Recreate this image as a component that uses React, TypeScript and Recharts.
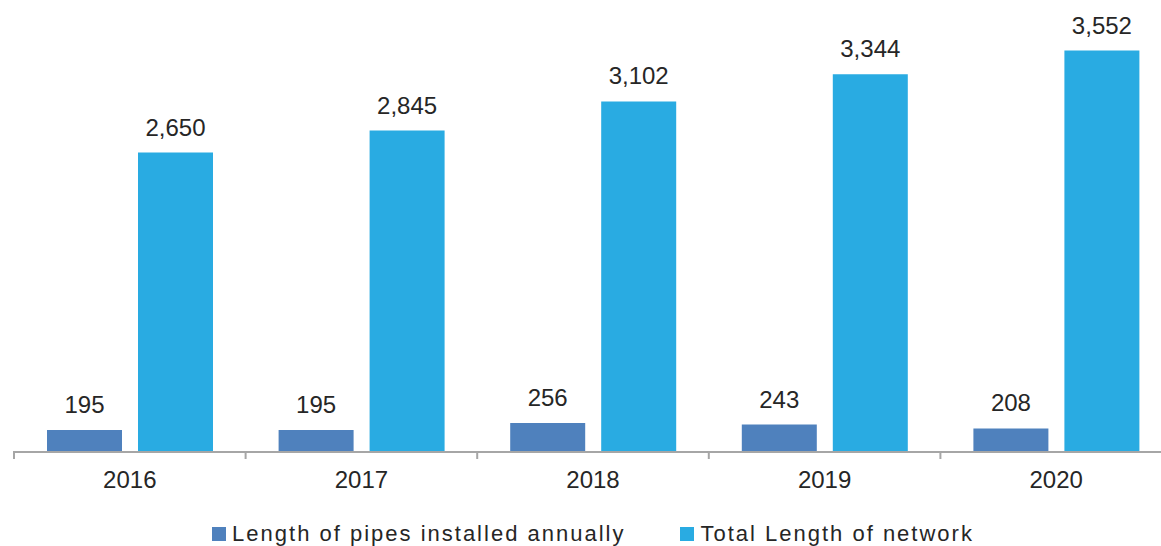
import { BarChart, Bar, XAxis, YAxis, Legend, LabelList } from 'recharts'

const years = ['2016', '2017', '2018', '2019', '2020']
const pipesInstalled = [195, 195, 256, 243, 208]
const networkTotal = [2650, 2845, 3102, 3344, 3552]

const FONT = '"Liberation Sans", Arial, sans-serif'
const TEXT = '#262626'
const AXIS = '#a6a6a6'
const DARK_BLUE = '#4f81bd'
const LIGHT_BLUE = '#29abe2'
const TICK_GAP = 19

const data = years.map((year, i) => ({
  year,
  annual: pipesInstalled[i],
  total: networkTotal[i],
}))

const fmt = (v: any) => Number(v).toLocaleString('en-US')

// year label plus short marks at the band edges
function YearTick({ x, y, payload, index, visibleTicksCount }: any) {
  const half = payload?.offset ?? 0
  const axisY = y - TICK_GAP
  const left = x - half
  const right = x + half
  return (
    <g>
      <line x1={left} x2={left} y1={axisY - 1} y2={axisY + 7} stroke={AXIS} strokeWidth={2} />
      {index === visibleTicksCount - 1 && (
        <line x1={right} x2={right} y1={axisY - 1} y2={axisY + 7} stroke={AXIS} strokeWidth={2} />
      )}
      <text x={x} y={y} dy="0.71em" textAnchor="middle" fill={TEXT} fontSize={24} fontFamily={FONT}>
        {payload.value}
      </text>
    </g>
  )
}

function LegendRow({ payload }: any) {
  return (
    <div style={{
      height: 36, paddingTop: 11, boxSizing: 'border-box', display: 'flex',
      justifyContent: 'center', alignItems: 'flex-start', fontFamily: FONT, fontSize: 22,
      letterSpacing: 2, color: TEXT, lineHeight: 'normal',
    }}>
      {(payload || []).map((p: any, i: number) => (
        <div key={i} style={{ display: 'flex', alignItems: 'flex-start', marginLeft: i ? 55 : 0 }}>
          <span style={{ width: 14, height: 14, background: p.color, marginTop: 6, marginRight: 6, display: 'inline-block' }} />
          <span>{p.value}</span>
        </div>
      ))}
    </div>
  )
}

export default function App() {
  return (
    <div style={{ position: 'absolute', left: 0, top: 0, width: 1161, height: 546, overflow: 'hidden', background: '#fff' }}>
      <BarChart
        width={1180}
        height={546}
        data={data}
        margin={{ top: 0, right: 8, left: 14, bottom: 0 }}
        barCategoryGap={33}
        barGap={16}
      >
        <XAxis
          dataKey="year"
          height={58}
          tickLine={false}
          tickSize={0}
          tickMargin={TICK_GAP}
          interval={0}
          axisLine={{ stroke: AXIS, strokeWidth: 2 }}
          tick={<YearTick />}
        />
        <YAxis hide domain={[0, 4000]} />
        <Legend verticalAlign="bottom" content={<LegendRow />} />
        <Bar dataKey="annual" name="Length of pipes installed annually" fill={DARK_BLUE} isAnimationActive={false}>
          <LabelList dataKey="annual" position="top" offset={17} formatter={fmt}
            style={{ fill: TEXT, fontSize: 24, fontFamily: FONT }} />
        </Bar>
        <Bar dataKey="total" name="Total Length of network" fill={LIGHT_BLUE} isAnimationActive={false}>
          <LabelList dataKey="total" position="top" offset={17} formatter={fmt}
            style={{ fill: TEXT, fontSize: 24, fontFamily: FONT }} />
        </Bar>
      </BarChart>
    </div>
  )
}
